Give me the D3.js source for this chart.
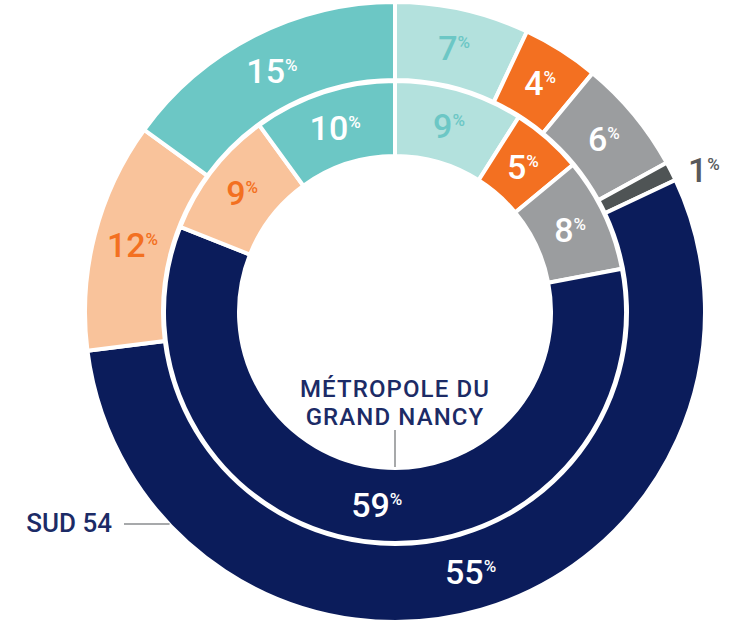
<!DOCTYPE html>
<html>
<head>
<meta charset="utf-8">
<script src="https://cdn.jsdelivr.net/npm/d3@7"></script>
<style>
  body { margin: 0; background: #fff; }
  svg { display: block; font-family: Roboto, "DejaVu Sans Condensed", sans-serif; font-weight: 500; }
</style>
</head>
<body>
<svg width="740" height="622"></svg>
<script>
// slices, clockwise from 12 o'clock
const segments = ["turquoise clair", "orange", "gris", "gris foncé", "bleu marine", "pêche", "turquoise"];
const outerValues = [7, 4, 6, 1, 55, 12, 15]; // Sud 54
const innerValues = [9, 5, 8, 0, 59, 9, 10]; // Métropole du Grand Nancy
const ringNames = ["SUD 54", "MÉTROPOLE DU GRAND NANCY"];
const metroLines = ["MÉTROPOLE DU", "GRAND NANCY"];

const fills = ["#b3e1dd", "#f37021", "#9b9d9f", "#4f5455", "#0b1c5b", "#f9c39b", "#6cc7c5"];
const labelColors = ["#6cc7c5", "#fff", "#fff", "#58595b", "#fff", "#f37021", "#fff"];

const cx = 395;
const cy = 312;
const gap = 4;

const svg = d3.select("svg");
const g = svg.append("g").attr("transform", `translate(${cx},${cy})`);

const pie = d3.pie().sort(null).value(d => d.value);

const rings = [
  { name: ringNames[0], values: outerValues, inner: 234, outer: 308 },
  { name: ringNames[1], values: innerValues, inner: 158, outer: 229 },
];

rings.forEach(ring => {
  const rows = segments.map((key, i) => ({ key, i, value: ring.values[i] }));
  const arcs = pie(rows).filter(d => d.data.value > 0);
  const arc = d3.arc()
    .innerRadius(ring.inner - gap / 2)
    .outerRadius(ring.outer + gap / 2);
  const mid = (ring.inner + ring.outer) / 2;

  g.append("g")
    .selectAll("path")
    .data(arcs)
    .join("path")
    .attr("d", arc)
    .attr("fill", d => fills[d.data.i])
    .attr("stroke", "#fff")
    .attr("stroke-width", gap);

  const labels = g.append("g")
    .selectAll("text")
    .data(arcs)
    .join("text")
    .attr("text-anchor", "middle")
    .attr("fill", d => labelColors[d.data.i])
    .attr("transform", d => {
      // the thin slice gets its label outside the ring
      const small = d.data.value < 2;
      const a = (d.startAngle + d.endAngle) / 2 + (small ? 0.04 : 0);
      const r = small ? ring.outer + 32 : mid;
      return `translate(${r * Math.sin(a)},${-r * Math.cos(a) + 12})`;
    });

  labels.append("tspan")
    .attr("font-size", 34)
    .text(d => d.data.value);
  labels.append("tspan")
    .attr("font-size", 17)
    .attr("dy", -12)
    .text("%");
});

// ring names
const outerR = rings[0].outer;
const sudY = 524;
const sudEdge = cx - Math.sqrt(outerR * outerR - (sudY - cy) * (sudY - cy));

svg.append("text")
  .attr("x", 112)
  .attr("y", 532)
  .attr("text-anchor", "end")
  .attr("fill", "#1c2b66")
  .attr("font-size", 26)
  .text(ringNames[0]);

svg.append("line")
  .attr("x1", 124)
  .attr("x2", sudEdge - 2)
  .attr("y1", sudY)
  .attr("y2", sudY)
  .attr("stroke", "#a7a9ab")
  .attr("stroke-width", 2);

const metro = svg.append("g")
  .attr("text-anchor", "middle")
  .attr("fill", "#1c2b66")
  .attr("font-size", 24)
  .attr("letter-spacing", 1.1);
metro.selectAll("text")
  .data(metroLines)
  .join("text")
  .attr("x", cx)
  .attr("y", (d, i) => 397 + i * 28)
  .text(d => d);

svg.append("line")
  .attr("x1", cx)
  .attr("x2", cx)
  .attr("y1", 430)
  .attr("y2", cy + rings[1].inner - 3)
  .attr("stroke", "#8a8c8e")
  .attr("stroke-width", 1.5);
</script>
</body>
</html>
